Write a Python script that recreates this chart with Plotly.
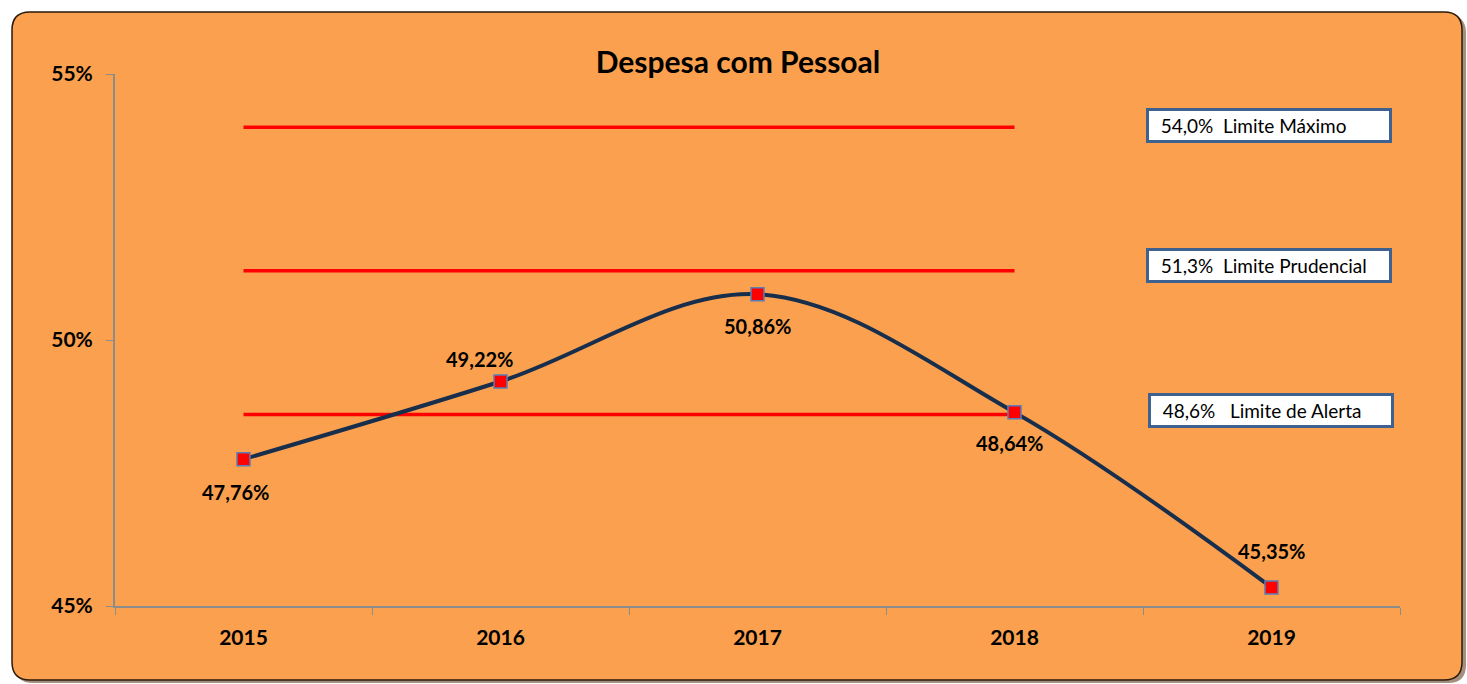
import plotly.graph_objects as go

# dados do gráfico
anos = ['2015', '2016', '2017', '2018', '2019']
despesa = [47.76, 49.22, 50.86, 48.64, 45.35]
rotulos = ['47,76%', '49,22%', '50,86%', '48,64%', '45,35%']
# deslocamento dos rótulos em pixels (x, y)
desloc = [(-8, -33), (-21, 23), (0, -32), (-5, -31), (0, 36)]

limites = [54.0, 51.3, 48.6]
limites_txt = ['54,0%&nbsp;&nbsp;Limite Máximo', '51,3%&nbsp;&nbsp;Limite Prudencial',
               '48,6%&nbsp;&nbsp;&nbsp;Limite de Alerta']
anos_limites = ['2015', '2016', '2017', '2018']

y_ticks = [45, 50, 55]
y_ticktext = ['45%', '50%', '55%']

FONT = 'Lato'
W, H = 1467, 684
ML, MR, MT, MB = 115, 67, 74, 78
PW, PH = W - ML - MR, H - MT - MB


def px_x(px):
    return (px - ML) / PW


def px_y(py):
    return 1 - (py - MT) / PH


def rounded_path(x0, y0, x1, y1, r):
    # caminho com cantos arredondados, em coordenadas de pixel convertidas para paper
    rx, ry = r / PW, r / PH
    a, b, c, d = px_x(x0), px_y(y0), px_x(x1), px_y(y1)
    return (f'M {a + rx} {b} L {c - rx} {b} Q {c} {b} {c} {b - ry} '
            f'L {c} {d + ry} Q {c} {d} {c - rx} {d} '
            f'L {a + rx} {d} Q {a} {d} {a} {d + ry} '
            f'L {a} {b - ry} Q {a} {b} {a + rx} {b} Z')


data = []
for lim in limites:
    data.append(go.Scatter(x=anos_limites, y=[lim] * len(anos_limites), mode='lines',
                           line=dict(color='#FF0000', width=3.5), hoverinfo='skip', showlegend=False))

data.append(go.Scatter(
    x=anos, y=despesa, mode='lines+markers',
    line=dict(color='#172E4C', width=4, shape='spline', smoothing=1),
    marker=dict(symbol='square', size=13, color='#FF0000', line=dict(color='#5B7DB8', width=1.5)),
    showlegend=False,
))

fig = go.Figure(data=data)

shapes = [
    dict(type='path', xref='paper', yref='paper', layer='below',
         path=rounded_path(15, 15, 1466, 683, 18), fillcolor='rgba(90,50,20,0.55)', line=dict(width=0)),
    dict(type='path', xref='paper', yref='paper', layer='below',
         path=rounded_path(12, 12, 1462, 680, 18), fillcolor='#FBA04E', line=dict(color='#2A1A0A', width=1.5)),
]

annotations = []
# no eixo de categorias, a posição da anotação é o índice da categoria
for i, (val, txt, (dx, dy)) in enumerate(zip(despesa, rotulos, desloc)):
    annotations.append(dict(
        text=txt, x=i, y=val, xref='x', yref='y', showarrow=False,
        xshift=dx, yshift=dy, font=dict(family=FONT, size=20, color='black', weight='bold'),
    ))

caixas_y = [125, 265, 410]
caixas_x = [1146, 1146, 1148]
for txt, cy, cx in zip(limites_txt, caixas_y, caixas_x):
    annotations.append(dict(
        text='&nbsp;&nbsp;' + txt, xref='paper', yref='paper', x=px_x(cx), y=px_y(cy),
        xanchor='left', yanchor='middle', showarrow=False, align='left',
        width=236, height=25, borderpad=2, borderwidth=3,
        bgcolor='white', bordercolor='#3F6190',
        font=dict(family=FONT, size=19, color='black'),
    ))

fig.update_layout(
    width=W, height=H,
    margin=dict(l=ML, r=MR, t=MT, b=MB),
    paper_bgcolor='white', plot_bgcolor='rgba(0,0,0,0)',
    title=dict(text='Despesa com Pessoal', x=738 / W, xanchor='center', xref='container',
               y=1 - 62 / H, yref='container', yanchor='middle',
               font=dict(family=FONT, size=30, color='black', weight='bold')),
    xaxis=dict(type='category', range=[-0.5, 4.5], showgrid=False, showline=True, linecolor='#8C8C8C',
               linewidth=2, ticks='outside', tickson='boundaries', ticklen=7, tickcolor='#8C8C8C',
               ticklabelstandoff=12,
               tickfont=dict(family=FONT, size=21, color='black', weight='bold')),
    yaxis=dict(range=[45, 55], tickvals=y_ticks, ticktext=y_ticktext, showgrid=False, zeroline=False,
               showline=True, linecolor='#8C8C8C', linewidth=2, ticks='outside', ticklen=7,
               tickcolor='#8C8C8C', ticklabelstandoff=9,
               tickfont=dict(family=FONT, size=21, color='black', weight='bold')),
    shapes=shapes,
    annotations=annotations,
    hovermode=False,
)

fig.write_html('out.html', config={'displayModeBar': False},
               post_script="document.body.style.margin='0px';")
